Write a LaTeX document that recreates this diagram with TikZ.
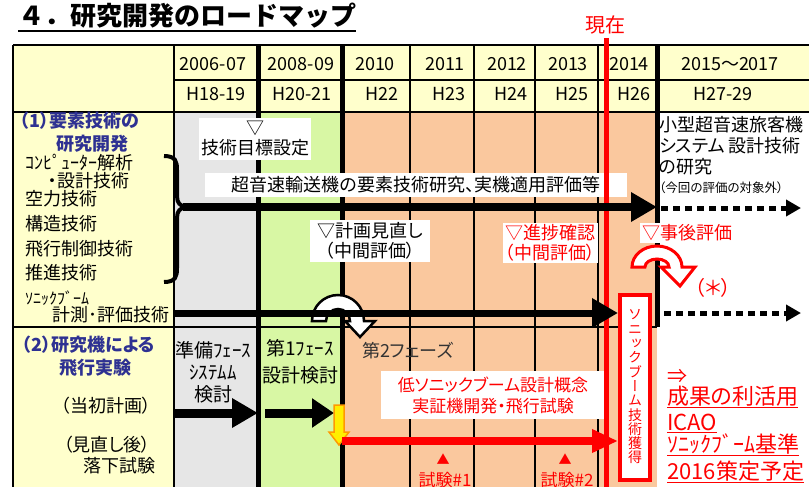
\documentclass[tikz,border=0pt]{standalone}
\usepackage{fontspec}
\setmainfont{Noto Sans CJK JP}[RawFeature=+palt]
\newfontfamily\jpfull{Noto Sans CJK JP}
\newfontfamily\jpvert{Noto Sans CJK JP}[RawFeature=+vert]
\usetikzlibrary{arrows.meta}
\definecolor{hdryellow}{HTML}{FFFFCC}
\definecolor{prepgray}{HTML}{E6E6E6}
\definecolor{phonegreen}{HTML}{D8F7A4}
\definecolor{phtwopeach}{HTML}{FAC89E}
\definecolor{secblue}{HTML}{2E3192}
\definecolor{dropyellow}{HTML}{FFEE00}
\definecolor{droporange}{HTML}{FF9900}

\begin{document}
\begin{tikzpicture}[x=1pt,y=-1pt,
    every node/.style={inner sep=0pt},
    lbl/.style={font=\fontsize{18}{21}\selectfont},
    hdr/.style={font=\fontsize{18}{20}\selectfont},
    sec/.style={font=\fontsize{18}{21}\selectfont\bfseries, text=secblue},
    wbox/.style={fill=white, inner sep=2pt, align=center, font=\fontsize{18}{20}\selectfont},
    redlbl/.style={text=red, anchor=west, font=\fontsize{22}{24}\selectfont},
    tline/.style={line width=1.2pt},
    tthick/.style={line width=5pt},
    bigarr/.style={line width=8pt, -{Triangle[length=26pt,width=28pt]}},
    dotarr/.style={line width=5pt, dash pattern=on 7pt off 5pt, -{Triangle[length=15pt,width=16pt]}}]
    \useasboundingbox (0,0) rectangle (809,487);

    \fill[hdryellow] (13,45) rectangle (809,112);
    \fill[hdryellow] (13,112) rectangle (174,487);
    \fill[prepgray] (174,112) rectangle (258,487);
    \fill[phonegreen] (258,112) rectangle (342,487);
    \fill[phtwopeach] (342,112) rectangle (657,487);

    \draw[tline] (13,45) -- (809,45);
    \draw[tline] (174,80) -- (809,80);
    \draw[tline] (13,112) -- (809,112);
    \draw[tline] (13,327) -- (657,327);
    \foreach \x in {13,174,410,474,535,598}
        \draw[tline] (\x,45) -- (\x,487);
    \draw[tthick] (258,45) -- (258,487);
    \draw[tthick] (342,45) -- (342,487);
    \draw[tthick] (657,45) -- (657,327);

    \node[anchor=west, font=\jpfull\bfseries\fontsize{26}{28}\selectfont] (title) at (18,16) {４．研究開発のロードマップ};
    \draw[line width=1.8pt] ([yshift=-2pt]title.south west) -- ([yshift=-2pt]title.south east);

    \foreach \yx/\yr/\hx/\hy [count=\i] in {213/2006-07/216/H18-19, 301/2008-09/302/H20-21,
        375/2010/382/H22, 445/2011/449/H23, 507/2012/511/H24, 568/2013/572/H25,
        629/2014/634/H26, 730/2015～2017/723/H27-29}
    {
        \node[hdr] (yr\i) at (\yx,64) {\yr};
        \node[hdr] (hs\i) at (\hx,94) {\hy};
    }

    \node[sec, anchor=west] (sec1a) at (20,121) {（1）要素技術の};
    \node[sec] (sec1b) at (92,144) {研究開発};
    \node[lbl, anchor=west] (tech1) at (25,163) {ｺﾝﾋﾟｭｰﾀｰ解析};
    \node[lbl, anchor=west] (tech1b) at (48,181) {・設計技術};
    \node[lbl, anchor=west] (tech2) at (25,199) {空力技術};
    \node[lbl, anchor=west] (tech3) at (25,224) {構造技術};
    \node[lbl, anchor=west] (tech4) at (25,249) {飛行制御技術};
    \node[lbl, anchor=west] (tech5) at (25,273) {推進技術};
    \node[anchor=west, font=\fontsize{16}{18}\selectfont] (tech6) at (25,298) {ｿﾆｯｸﾌﾞｰﾑ};
    \node[lbl, anchor=west] (tech6b) at (52,315) {計測･評価技術};
    \draw[line width=4pt] (164,156) .. controls (176,156) and (177,162) .. (177,170) -- (177,196)
        .. controls (177,203) and (180,206) .. (186,207) .. controls (180,208) and (177,211) .. (177,218)
        -- (177,268) .. controls (177,276) and (176,282) .. (164,282);

    \node[sec, anchor=west] (sec2a) at (22,345) {（2）研究機による};
    \node[sec] (sec2b) at (95,368) {飛行実験};
    \node[lbl] (plan0) at (106,406) {（当初計画）};
    \node[lbl] (plan1) at (107,445) {（見直し後）};
    \node[lbl] (drop) at (119,466) {落下試験};
    \node[lbl, align=center, font=\fontsize{19}{22}\selectfont] (prep) at (213,372) {準備ﾌｪｰｽ\\ｼｽﾃﾑﾑ\\検討};
    \node[lbl, align=center, font=\fontsize{19}{27}\selectfont] (ph1) at (300,362) {第1ﾌｪｰｽ\\設計検討};
    \node[lbl, anchor=west, text=black!80] (ph2) at (362,351) {第2フェーズ};

    \node[lbl, anchor=west] (next1) at (659,125) {小型超音速旅客機};
    \node[lbl, anchor=west] (next2) at (659,146) {システム 設計技術};
    \node[lbl, anchor=west] (next3) at (659,167) {の研究};
    \node[anchor=west, font=\fontsize{12.5}{13}\selectfont] (next4) at (659,188) {（今回の評価の対象外）};

    \node[wbox, minimum width=110pt, minimum height=42pt] (target) at (255,139) {▽\\技術目標設定};
    \node[wbox, minimum width=422pt, minimum height=24pt] (elem) at (416,185) {超音速輸送機の要素技術研究、実機適用評価等};
    \node[wbox, minimum width=120pt, minimum height=42pt] (review1) at (370,241) {▽計画見直し\\（中間評価）};
    \node[wbox, text=red, minimum width=95pt, minimum height=40pt] (review2) at (550,243) {▽進捗確認\\（中間評価）};
    \node[wbox, text=red] (postrev) at (687,233) {▽事後評価};
    \node[wbox, text=red, font=\fontsize{17}{21}\selectfont, minimum width=225pt, minimum height=48pt] (lowboom) at (493,395) {低ソニックブーム設計概念\\実証機開発・飛行試験};

    \node[text=red, font=\fontsize{20}{22}\selectfont] (now) at (605,25) {現在};
    \coordinate (nowtop) at (606,38);
    \coordinate (nowbot) at (606,487);
    \draw[red, line width=5pt] (nowtop) -- (nowbot);

    \node[draw=red, line width=4pt, fill=white, minimum width=30pt, minimum height=185pt, align=center,
        text=red, font=\jpvert\fontsize{14}{14.3}\selectfont] (sbox) at (635,387) {ソ\\ニ\\ッ\\ク\\ブ\\ー\\ム\\技\\術\\獲\\得};

    \draw[line width=2.5pt, fill=white] (312,321) arc[start angle=180, end angle=360, radius=26]
        -- (375,321) -- (360,337) -- (345,321) -- (350,321)
        arc[start angle=360, end angle=180, radius=12] -- cycle;

    \coordinate (a1s) at (183,207);
    \coordinate (a1e) at (657,207);
    \draw[bigarr] (a1s) -- (a1e);
    \coordinate (d1s) at (661,208);
    \coordinate (d1e) at (801,208);
    \draw[dotarr] (d1s) -- (d1e);
    \coordinate (a2s) at (175,313);
    \draw[bigarr, line width=7pt] (a2s) -- (a2s -| sbox.west);
    \coordinate (d2s) at (664,313);
    \coordinate (d2e) at (801,313);
    \draw[dotarr] (d2s) -- (d2e);

    \draw[red, line width=3pt, fill=white] (632,267) arc[start angle=180, end angle=360, x radius=25, y radius=21]
        -- (695,267) -- (680,286) -- (661,267) -- (669,267)
        arc[start angle=360, end angle=180, x radius=12, y radius=8] -- cycle;
    \node[text=red, font=\fontsize{20}{22}\selectfont] (asterisk) at (713,288) {（＊）};

    \coordinate (p0s) at (175,413);
    \coordinate (p0e) at (258,413);
    \draw[bigarr, line width=9pt] (p0s) -- (p0e);
    \coordinate (p1s) at (265,413);
    \coordinate (p1e) at (334,413);
    \draw[line width=9pt, -{Triangle[length=22pt,width=28pt]}] (p1s) -- (p1e);
    \draw[droporange, fill=dropyellow, line width=1.5pt] (334,405) -- (344,405) -- (344,432)
        -- (349,432) -- (339,445) -- (329,432) -- (334,432) -- cycle;
    \coordinate (r0s) at (342,441);
    \draw[red, line width=8pt, -{Triangle[length=26pt,width=22pt]}] (r0s) -- (r0s -| sbox.west);

    \node[text=red, font=\fontsize{13}{13}\selectfont] (mark1) at (443,459) {▲};
    \node[text=red, font=\fontsize{17}{17}\selectfont] (test1) at (445,480) {試験\#1};
    \node[text=red, font=\fontsize{13}{13}\selectfont] (mark2) at (565,459) {▲};
    \node[text=red, font=\fontsize{17}{17}\selectfont] (test2) at (567,480) {試験\#2};

    \node[redlbl, font=\fontsize{20}{22}\selectfont] (then) at (667,376) {⇒};
    \node[redlbl] (use) at (667,397) {\underline{成果の利活用}};
    \node[redlbl] (icao) at (667,423) {\underline{ICAO}};
    \node[redlbl] (std) at (667,445) {\underline{ｿﾆｯｸﾌﾞｰﾑ基準}};
    \node[redlbl] (plan) at (667,472) {\underline{2016策定予定}};
\end{tikzpicture}
\end{document}
